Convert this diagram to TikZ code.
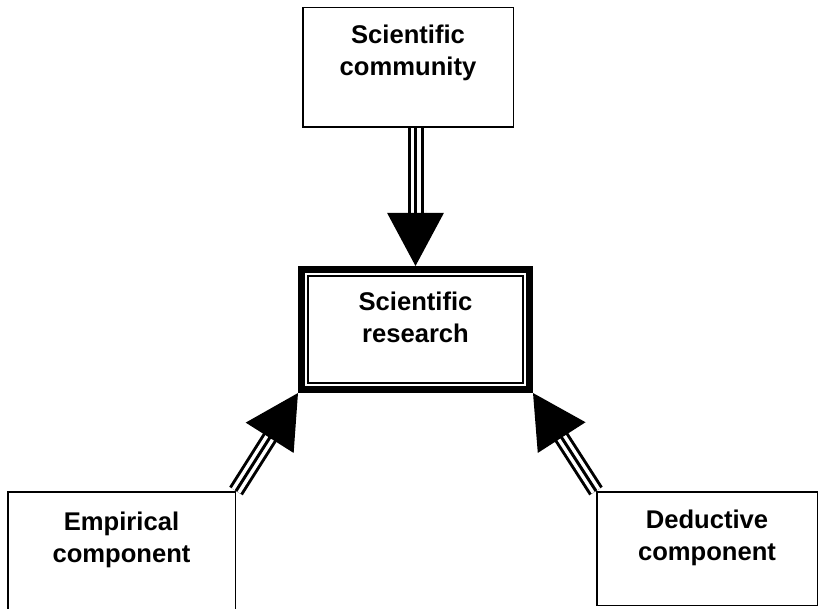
\documentclass[tikz,border=0pt]{standalone}
\usepackage{fontspec}
\setmainfont{Liberation Sans}
\usetikzlibrary{arrows.meta, positioning}

\begin{document}
\begin{tikzpicture}[
        font=\fontsize{12.8}{16}\selectfont\bfseries,
        block/.style={
            draw,
            line width=0.75pt,
            align=center,
            minimum width=110pt,
            minimum height=57pt
        },
        mainblock/.style={
            block,
            line width=3.5pt,
            minimum width=114pt,
            minimum height=60pt,
            text depth=12.1pt
        },
        innerframe/.style={line width=1pt},
        shaft/.style={
            double,
            double distance=5pt,
            line width=1.5pt,
            shorten >=25pt
        },
        arrow/.style={
            -{Triangle[length=26.5pt, width=28pt]},
            line width=1.5pt
        }
    ]

    \useasboundingbox (0,0) rectangle (410pt,-304.5pt);

    \node[mainblock] (research) at (207.75pt,-164.75pt) {Scientific\\research};
    \node[block, minimum width=105.25pt, minimum height=59.75pt, text depth=17.1pt,
        above=69pt of research, xshift=-3.75pt] (community) {Scientific\\community};
    \node[block, minimum width=113.75pt, minimum height=67pt, text depth=21.6pt,
        below left=49pt and 31pt of research] (empirical) {Empirical\\component};
    \node[block, minimum width=110.25pt, minimum height=56.75pt, text depth=13.6pt,
        below right=49pt and 31.5pt of research] (deductive) {Deductive\\component};

    % double frame of the central box
    \draw[innerframe] ([shift={(5pt,-5pt)}]research.north west)
        rectangle ([shift={(-5pt,5pt)}]research.south east);

    \draw[shaft] (research.north |- community.south) -- (research.north);
    \draw[arrow] (research.north |- community.south) -- (research.north);
    \draw[shaft] (empirical.north east) -- (research.south west);
    \draw[arrow] (empirical.north east) -- (research.south west);
    \draw[shaft] (deductive.north west) -- (research.south east);
    \draw[arrow] (deductive.north west) -- (research.south east);

\end{tikzpicture}
\end{document}
